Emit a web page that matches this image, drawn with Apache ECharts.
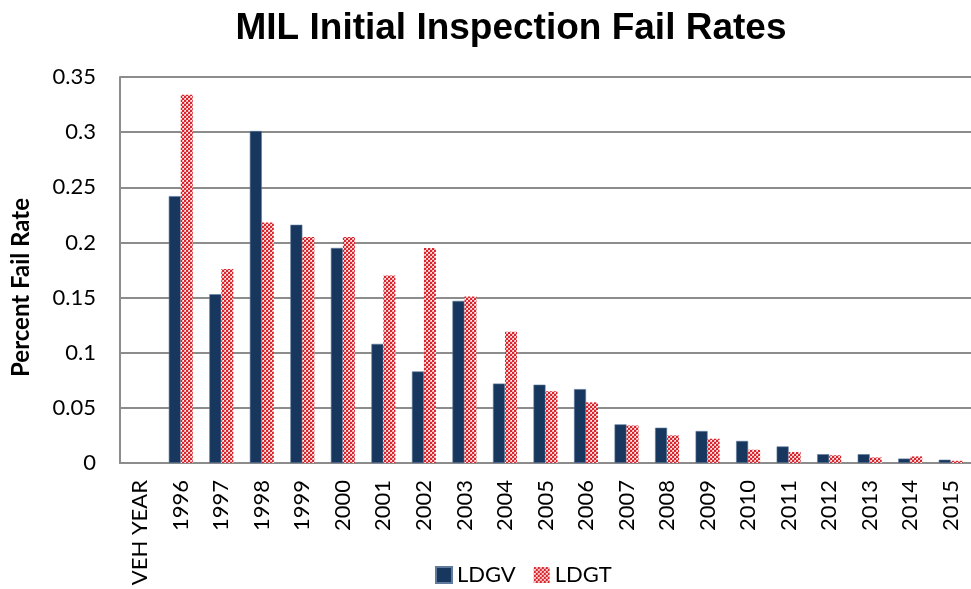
<!DOCTYPE html>
<html>
<head>
<meta charset="utf-8">
<script src="https://cdn.jsdelivr.net/npm/echarts@6/dist/echarts.min.js"></script>
<style>
  html, body { margin: 0; padding: 0; background: #fff; }
  #chart { width: 971px; height: 589px; }
</style>
</head>
<body>
<div id="chart"></div>
<script>
// Model years (first slot is the header label from the sheet)
const years = ['VEH YEAR', '1996', '1997', '1998', '1999', '2000', '2001', '2002', '2003', '2004',
  '2005', '2006', '2007', '2008', '2009', '2010', '2011', '2012', '2013', '2014', '2015'];

const ldgv = [null, 0.242, 0.153, 0.301, 0.216, 0.195, 0.108, 0.083, 0.147, 0.072,
  0.071, 0.067, 0.035, 0.032, 0.029, 0.020, 0.015, 0.008, 0.008, 0.004, 0.003];
const ldgt = [null, 0.334, 0.176, 0.218, 0.205, 0.205, 0.170, 0.195, 0.151, 0.119,
  0.065, 0.055, 0.034, 0.025, 0.022, 0.012, 0.010, 0.007, 0.005, 0.006, 0.002];

const yTicks = [0, 0.05, 0.1, 0.15, 0.2, 0.25, 0.3, 0.35];

const labelFont = 'Lato, "Open Sans", sans-serif';

// red checker fill like the Excel pattern
function checkerPattern() {
  const c = document.createElement('canvas');
  c.width = 4; c.height = 4;
  const g = c.getContext('2d');
  g.fillStyle = '#f3b7b9';
  g.fillRect(0, 0, 4, 4);
  g.fillStyle = '#d8262f';
  g.fillRect(0, 0, 2, 2);
  g.fillRect(2, 2, 2, 2);
  g.fillStyle = '#ffffff';
  g.fillRect(3, 0, 1, 1);
  g.fillRect(1, 2, 1, 1);
  return { image: c, repeat: 'repeat' };
}

const chart = echarts.init(document.getElementById('chart'), null, { renderer: 'canvas' });

chart.setOption({
  backgroundColor: '#fff',
  animation: false,
  title: {
    text: 'MIL Initial Inspection Fail Rates',
    left: 506, top: 5, textAlign: 'center',
    textStyle: { fontFamily: 'Liberation Sans, Arial, sans-serif', fontSize: 37, fontWeight: 'bold', color: '#000' },
  },
  graphic: [{
    type: 'text',
    left: 9, top: 198,
    rotation: Math.PI / 2,
    style: {
      text: 'Percent Fail Rate',
      font: 'bold 24px ' + labelFont,
      fill: '#000',
    },
  }],
  legend: {
    top: 559, left: 430,
    icon: 'rect',
    itemWidth: 16, itemHeight: 16, itemGap: 18,
    textStyle: { fontFamily: labelFont, fontSize: 22, color: '#000' },
    data: ['LDGV', 'LDGT'],
  },
  grid: { left: 120, right: 0, top: 77, bottom: 126 },
  xAxis: {
    type: 'category',
    data: years,
    axisLine: { lineStyle: { color: '#8c8c8c', width: 2 } },
    axisTick: { show: false },
    axisLabel: {
      rotate: 90, margin: 17,
      fontFamily: labelFont, fontSize: 22, color: '#000',
    },
  },
  yAxis: {
    type: 'value',
    min: 0, max: 0.35, interval: 0.05,
    axisLine: { show: true, lineStyle: { color: '#8c8c8c', width: 2 } },
    axisTick: { show: false },
    axisLabel: {
      margin: 24,
      fontFamily: labelFont, fontSize: 22, color: '#000',
      formatter: (v) => String(yTicks.find((t) => Math.abs(t - v) < 1e-9) ?? v),
    },
    splitLine: { lineStyle: { color: '#8c8c8c', width: 2 } },
  },
  series: [
    {
      name: 'LDGV', type: 'bar', data: ldgv,
      barWidth: 12, barGap: '0%',
      itemStyle: { color: '#17375e', borderColor: '#5f7a9c', borderWidth: 0.6 },
    },
    {
      name: 'LDGT', type: 'bar', data: ldgt,
      barWidth: 12,
      itemStyle: { color: checkerPattern() },
    },
  ],
});
</script>
</body>
</html>
